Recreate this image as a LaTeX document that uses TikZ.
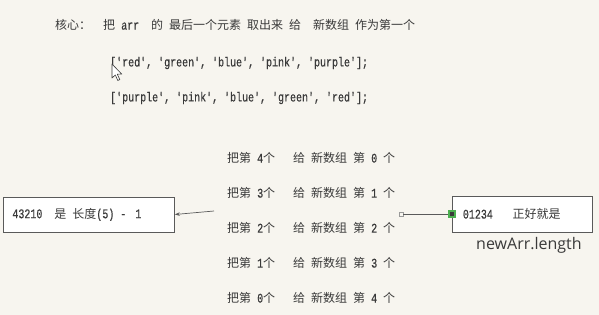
\documentclass[tikz,border=0pt]{standalone}
\usepackage{fontspec}
\setmainfont{Liberation Mono}[Ligatures=TeXOff, Scale=1.32, FakeStretch=0.757, FakeBold=0.6]
\newfontfamily\cjk[Scale=1.2]{Noto Sans CJK SC}
\newfontfamily\uisans{Open Sans}
\newcommand\zh[1]{{\cjk #1}}
% one half-width character cell is 6pt wide
\newcommand\gp[1]{\hspace*{#1\dimexpr 6pt\relax}}
\usetikzlibrary{arrows.meta}
\definecolor{paper}{HTML}{F7F5EF}
\definecolor{ink}{HTML}{3A3A3A}
\definecolor{frame}{HTML}{5A5A5A}
\definecolor{handle}{HTML}{4CAF50}
\tikzset{
  cellfont/.style={font=\fontsize{10}{12}\selectfont},
  txt/.style={anchor=west, inner sep=0pt, text=ink, cellfont},
  box/.style={draw=frame, line width=0.8pt, fill=white, anchor=west, inner ysep=0pt,
              cellfont, text=ink, align=left},
  link/.style={draw=frame, line width=0.7pt},
  endsq/.style={draw=gray!80, fill=paper, line width=0.5pt, minimum size=4pt, inner sep=0pt},
  gripsq/.style={draw=handle, fill=ink, line width=1.2pt, minimum size=6pt, inner sep=0pt},
}
\begin{document}
\begin{tikzpicture}[x=1pt,y=-1pt]
  \fill[paper] (0,0) rectangle (599,315);
  \useasboundingbox (0,0) rectangle (599,315);

  % heading
  \node[txt] (core) at (55,25) {\zh{核心：}};
  \node[txt] (rule) at (103,25)
    {\zh{把}\gp{1}arr\gp{2}\zh{的}\gp{1}\zh{最后一个元素}\gp{1}\zh{取出来}\gp{1}\zh{给}\gp{2}\zh{新数组}\gp{1}\zh{作为第一个}};

  % the two arrays
  \node[txt] (arrA) at (110,63) {['red',\gp{1}'green',\gp{1}'blue',\gp{1}'pink',\gp{1}'purple'];};
  \node[txt] (arrB) at (110,98) {['purple',\gp{1}'pink',\gp{1}'blue',\gp{1}'green',\gp{1}'red'];};

  % mouse pointer
  \draw[fill=white, draw=ink, line width=0.6pt, line join=round]
    (112,64) -- (112,78) -- (115.3,75) -- (117.8,80.5) -- (119.8,79.6) -- (117.3,74.2) -- (121.8,74.2) -- cycle;

  % the five copy steps
  \foreach \src/\dst [count=\k from 0] in {4/0,3/1,2/2,1/3,0/4}
    \node[txt] (step\k) at (227,158+35*\k)
      {\zh{把第}\gp{1}\src\zh{个}\gp{3}\zh{给}\gp{1}\zh{新数组}\gp{1}\zh{第}\gp{1}\dst\gp{1}\zh{个}};

  % side notes
  \node[box, minimum width=171pt, minimum height=35pt, text width=153pt, inner xsep=9pt]
    (lbox) at (3,214.5) {43210\gp{2}\zh{是}\gp{1}\zh{长度}(5)\gp{1}-\gp{1.5}1};
  \node[box, minimum width=140pt, minimum height=36pt, text width=119pt, inner xsep=10.5pt]
    (rbox) at (452,214) {01234\gp{3.3}\zh{正好就是}};
  \node[anchor=west, inner sep=0pt, text=ink, font=\uisans\fontsize{16}{18}\selectfont]
    (len) at (476,245) {newArr.length};

  % connectors
  \coordinate (tail) at (214,211);
  \draw[link, -{Stealth[length=5pt,width=3.5pt]}] (tail) -- (lbox.east);
  \node[endsq] (sq1) at (401,214) {};
  \draw[link] (sq1) -- (rbox.west);
  \node[gripsq] (sq2) at (rbox.west) {};
\end{tikzpicture}
\end{document}
